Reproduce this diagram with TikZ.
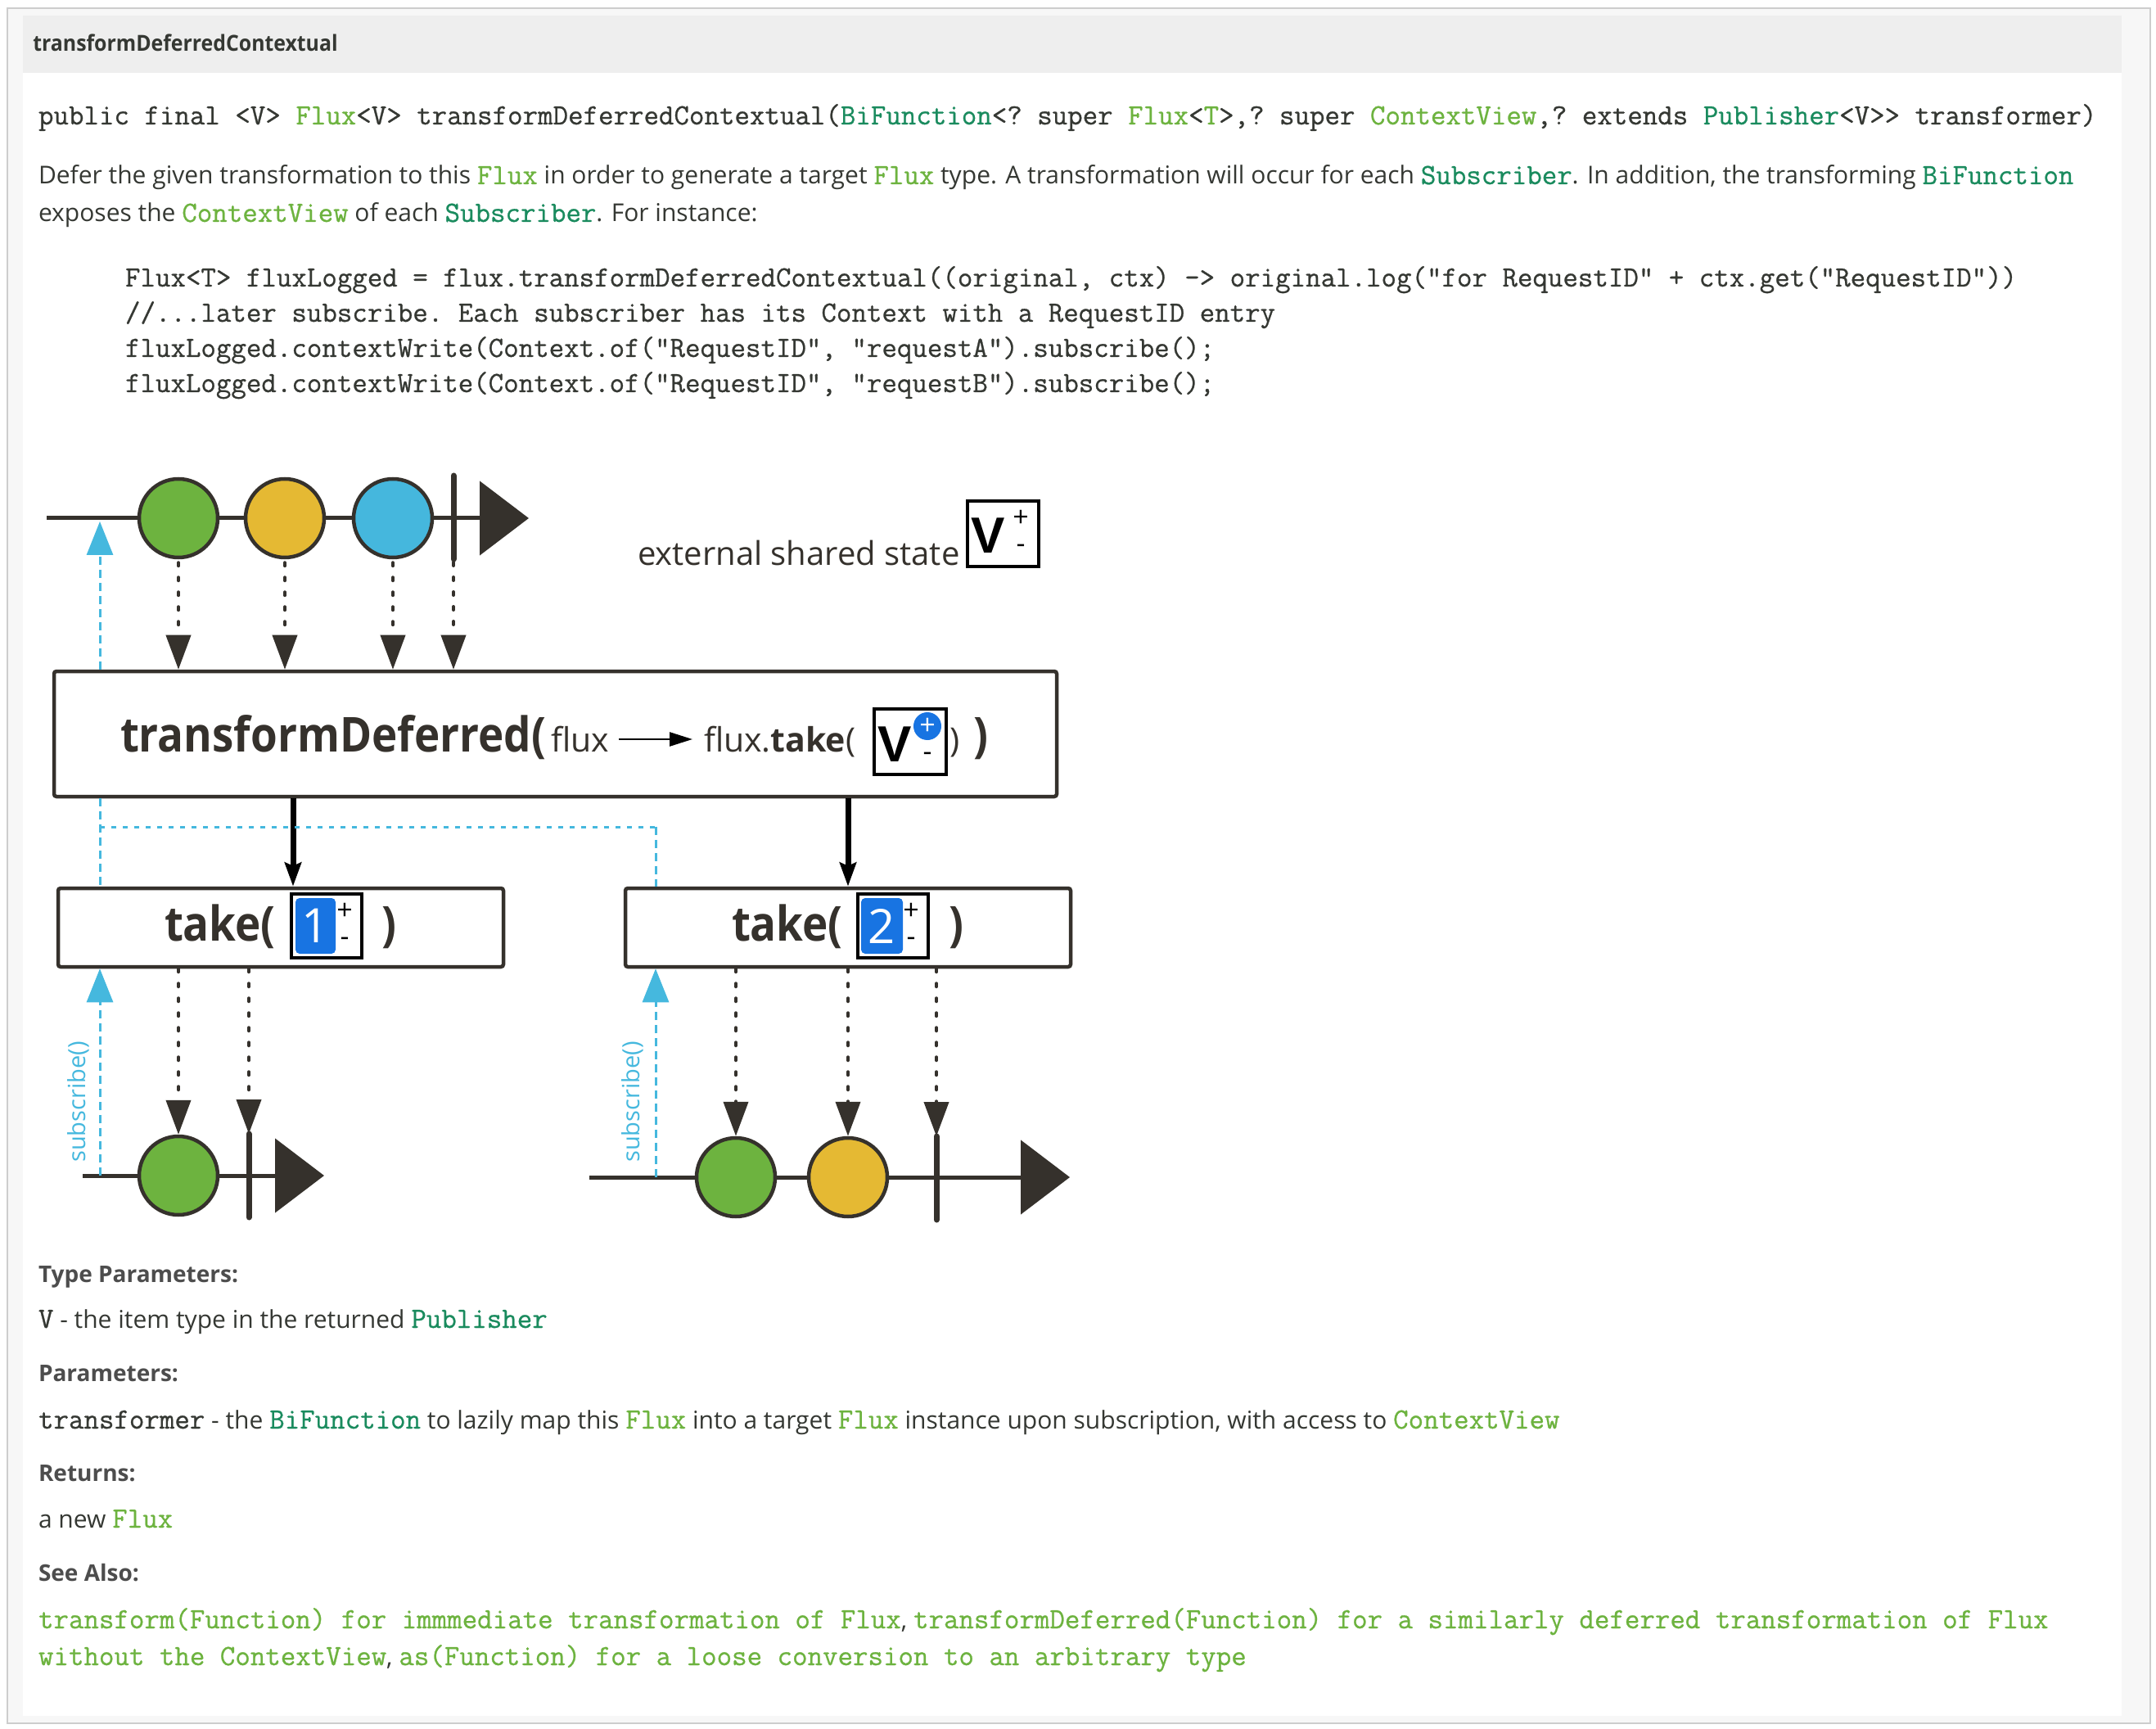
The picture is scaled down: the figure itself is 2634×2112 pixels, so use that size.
\documentclass[tikz,border=0pt]{standalone}
\usepackage{fontspec}
\setmainfont{Open Sans}
\setmonofont{Latin Modern Mono}[FakeBold=0.7]
\newfontfamily\hdrfont[FakeStretch=0.92]{Open Sans}
\newfontfamily\dfont[FakeStretch=0.9]{Open Sans}
\newfontfamily\vfont{Liberation Sans}
\usetikzlibrary{arrows.meta}

\definecolor{dk}{RGB}{53,49,44}
\definecolor{txt}{RGB}{53,56,51}
\definecolor{lbl}{RGB}{77,77,77}
\definecolor{lgreen}{RGB}{109,179,63}
\definecolor{dgreen}{RGB}{26,139,94}
\definecolor{mgreen}{RGB}{109,179,63}
\definecolor{myellow}{RGB}{229,185,51}
\definecolor{mblue}{RGB}{69,183,221}
\definecolor{sblue}{RGB}{69,184,222}
\definecolor{nblue}{RGB}{24,116,226}
\definecolor{hdr}{RGB}{238,238,238}
\definecolor{pagebg}{RGB}{247,247,247}
\definecolor{framec}{RGB}{205,205,205}

\newcommand\cpl[1]{{\ttfamily\fontsize{17.95pt}{20pt}\selectfont\color{txt}#1}}
\newcommand\cgl[1]{{\ttfamily\fontsize{17.95pt}{20pt}\selectfont\color{lgreen}#1}}
\newcommand\cgd[1]{{\ttfamily\fontsize{17.95pt}{20pt}\selectfont\color{dgreen}#1}}

\begin{document}
\begin{tikzpicture}[x=0.5pt,y=-0.5pt,
  txtline/.style={anchor=base west, inner sep=0pt, outer sep=0pt, text=txt, font=\fontsize{15pt}{18pt}\selectfont},
  lblline/.style={anchor=base west, inner sep=0pt, outer sep=0pt, text=lbl, font=\fontsize{14pt}{18pt}\selectfont\bfseries},
  codeline/.style={anchor=base west, inner sep=0pt, outer sep=0pt, text=txt, font=\ttfamily\fontsize{17.95pt}{20pt}\selectfont},
  dtext/.style={anchor=base west, inner sep=0pt, outer sep=0pt, text=dk},
  bigop/.style={dtext, font=\dfont\bfseries\fontsize{29.4pt}{32pt}\selectfont},
  marble/.style={circle, draw=dk, line width=2.25pt, minimum size=48pt, inner sep=0pt},
  opbox/.style={rectangle, draw=dk, line width=2.25pt, fill=white, rounded corners=1.5pt, inner sep=0pt},
  vbox/.style={rectangle, draw=black, line width=2pt, fill=white, inner sep=0pt},
  vletter/.style={inner sep=0pt, text=black, font=\vfont\bfseries\fontsize{31pt}{31pt}\selectfont},
  pm/.style={inner sep=0pt, text=black, font=\fontsize{17pt}{17pt}\selectfont},
  numbox/.style={rectangle, fill=nblue, rounded corners=2.5pt, inner sep=0pt, minimum height=34pt, text=white, font=\fontsize{29pt}{29pt}\selectfont},
  tline/.style={draw=dk, line width=2.5pt, -{Triangle[length=30pt,width=45pt]}},
  endbar/.style={draw=dk, line width=3.5pt, line cap=round},
  emit/.style={draw=dk, line width=2pt, line cap=round, dash pattern=on 2pt off 7pt, -{Triangle[length=21pt,width=15pt]}},
  subline/.style={draw=sblue, line width=1.5pt, dash pattern=on 5pt off 3pt},
  subdot/.style={draw=sblue, line width=1.5pt, dash pattern=on 3pt off 4pt},
  subtip/.style={-{Triangle[length=20.5pt,width=16pt]}},
  push/.style={draw=black, line width=3.5pt, -{Stealth[length=14.5pt,width=10pt,inset=2pt]}},
  lam/.style={draw=black, line width=1.3pt, -{Triangle[length=14pt,width=8.5pt]}}
]
% page
\fill[white] (0,0) rectangle (2634,2112);
\path[use as bounding box] (0,0) rectangle (2634,2112);
\draw[framec, fill=pagebg, line width=1.2pt] (9,10) rectangle (2627,2105);
\fill[hdr] (28,19) rectangle (2592,89);
\fill[white] (28,89) rectangle (2592,2096);

% header and text
\node[anchor=base west, inner sep=0pt, text=txt, font=\hdrfont\bfseries\fontsize{13.5pt}{16pt}\selectfont] (title) at (40,62.5) {transformDeferredContextual};
\node[codeline] (sig) at (47,152) {public final <V> \cgl{Flux}<V> transformDeferredContextual(\cgd{BiFunction}<? super \cgl{Flux}<\cgl{T}>,? super \cgl{ContextView},? extends \cgd{Publisher}<V>> transformer)};
\node[txtline] (d1) at (47,225) {Defer the given transformation to this \cgl{Flux} in order to generate a target \cgl{Flux} type. A transformation will occur for each \cgd{Subscriber}. In addition, the transforming \cgd{BiFunction}};
\node[txtline] (d2) at (47,271) {exposes the \cgl{ContextView} of each \cgd{Subscriber}. For instance:};
\node[codeline] (k1) at (153,350) {Flux<T> fluxLogged = flux.transformDeferredContextual((original, ctx) -> original.log("for RequestID" + ctx.get("RequestID"))};
\node[codeline] (k2) at (153,393) {//...later subscribe. Each subscriber has its Context with a RequestID entry};
\node[codeline] (k3) at (153,436) {fluxLogged.contextWrite(Context.of("RequestID", "requestA").subscribe();};
\node[codeline] (k4) at (153,479) {fluxLogged.contextWrite(Context.of("RequestID", "requestB").subscribe();};

\node[lblline] (h1) at (47,1566) {Type Parameters:};
\node[txtline] (e1) at (47,1622) {\cpl{V} - the item type in the returned \cgd{Publisher}};
\node[lblline] (h2) at (47,1687) {Parameters:};
\node[txtline] (e2) at (47,1745) {\cpl{transformer} - the \cgd{BiFunction} to lazily map this \cgl{Flux} into a target \cgl{Flux} instance upon subscription, with access to \cgl{ContextView}};
\node[lblline] (h3) at (47,1809) {Returns:};
\node[txtline] (e3) at (47,1866) {a new \cgl{Flux}};
\node[lblline] (h4) at (47,1931) {See Also:};
\node[txtline] (e4) at (47,1989) {\cgl{transform(Function) for immmediate transformation of Flux}, \cgl{transformDeferred(Function) for a similarly deferred transformation of Flux}};
\node[txtline] (e5) at (47,2034) {\cgl{without the ContextView}, \cgl{as(Function) for a loose conversion to an arbitrary type}};

% ---------- diagram ----------
% source timeline
\coordinate (t1s) at (57,633);
\coordinate (t1e) at (646,633);
\draw[tline] (t1s) -- (t1e);
\node[marble, fill=mgreen] (g1) at (218,633) {};
\node[marble, fill=myellow] (y1) at (348,633) {};
\node[marble, fill=mblue] (b1) at (480,633) {};
\coordinate (c1t) at (554,581);
\coordinate (c1b) at (554,683);
\draw[endbar] (c1t) -- (c1b);

% external state
\node[dtext, font=\fontsize{20pt}{24pt}\selectfont] (ext) at (779,691) {external shared state};
\node[vbox, minimum width=43.5pt, minimum height=40pt] (vext) at (1225.5,652) {};
\node[vletter] (vextV) at (1207.5,654) {V};
\node[pm] (vextp) at (1247,633) {+};
\node[pm] (vextm) at (1247,670) {-};

% main operator box
\node[opbox, minimum width=612.5pt, minimum height=76.5pt] (main) at (678.5,896.5) {};
\node[bigop] (tdname) at (147,918) {transformDeferred(};
\node[dtext, font=\fontsize{20.5pt}{24pt}\selectfont] (fluxin) at (673,918) {flux};
\node[dtext, font=\fontsize{20.5pt}{24pt}\selectfont] (fluxout) at (860,918) {flux.\textbf{take}(};
\coordinate (fa) at (756,903);
\coordinate (fb) at (846,903);
\draw[lam] (fa) -- (fb);
\node[vbox, minimum width=44pt, minimum height=40pt] (vmain) at (1112,906) {};
\node[vletter] (vmainV) at (1093,909) {V};
\node[circle, fill=nblue, minimum size=17pt, inner sep=0pt, text=white, font=\fontsize{17pt}{17pt}\selectfont] (vmainp) at (1133,887) {+};
\node[pm] (vmainm) at (1133,924) {-};
\node[dtext, font=\fontsize{20.5pt}{24pt}\selectfont] (rpa) at (1160,918) {)};
\node[bigop] (rpb) at (1189,918) {)};

% emissions into main box
\draw[emit, shorten <=2pt] (g1.south) -- (g1.south |- main.north);
\draw[emit, shorten <=2pt] (y1.south) -- (y1.south |- main.north);
\draw[emit, shorten <=2pt] (b1.south) -- (b1.south |- main.north);
\draw[emit, shorten <=2pt] (c1b) -- (c1b |- main.north);

% take boxes
\node[opbox, minimum width=272pt, minimum height=48pt] (take1) at (343,1133) {};
\node[opbox, minimum width=272pt, minimum height=48pt] (take2) at (1036,1133) {};
\node[bigop] (tk1) at (201,1149) {take(};
\node[vbox, minimum width=43pt, minimum height=39pt] (n1box) at (399,1131) {};
\node[numbox, minimum width=24.5pt] (n1) at (385.5,1131) {1};
\node[pm] (n1p) at (421,1113) {+};
\node[pm] (n1m) at (421,1150) {-};
\node[bigop] (rp1) at (466,1149) {)};
\node[bigop] (tk2) at (894,1149) {take(};
\node[vbox, minimum width=43pt, minimum height=39pt] (n2box) at (1091,1131) {};
\node[numbox, minimum width=25.5pt] (n2) at (1077.5,1131) {2};
\node[pm] (n2p) at (1113,1113) {+};
\node[pm] (n2m) at (1113,1150) {-};
\node[bigop] (rp2) at (1159,1149) {)};

% push arrows
\coordinate (pa) at (358,973);
\draw[push] (main.south -| pa) -- (take1.north -| pa);
\draw[push] (main.south -| take2.north) -- (take2.north);

% subscription path (blue)
\coordinate (sub0) at (122,637);
\draw[subline, subtip, sblue] (main.north -| sub0) -- (sub0);
\coordinate (jn1) at (122,1010);
\coordinate (jn2) at (801,1010);
\draw[subline] (main.south -| sub0) -- (take1.north -| sub0);
\draw[subdot] (jn1) -- (jn2);
\draw[subline] (jn2) -- (take2.north -| jn2);

% bottom left timeline
\coordinate (l2s) at (101,1436);
\coordinate (l2e) at (396,1436);
\draw[tline] (l2s) -- (l2e);
\node[marble, fill=mgreen] (g2) at (218,1436) {};
\coordinate (c2t) at (304,1385);
\coordinate (c2b) at (304,1487);
\draw[endbar] (c2t) -- (c2b);
\draw[emit] (take1.south -| g2) -- (g2.north);
\draw[emit] (take1.south -| c2t) -- (c2t);

% bottom right timeline
\coordinate (r2s) at (720,1438);
\coordinate (r2e) at (1307,1438);
\draw[tline] (r2s) -- (r2e);
\node[marble, fill=mgreen] (g3) at (899,1438) {};
\node[marble, fill=myellow] (y3) at (1036,1438) {};
\coordinate (c3t) at (1144,1388);
\coordinate (c3b) at (1144,1490);
\draw[endbar] (c3t) -- (c3b);
\draw[emit] (take2.south -| g3) -- (g3.north);
\draw[emit] (take2.south -| y3) -- (y3.north);
\draw[emit] (take2.south -| c3t) -- (c3t);

% subscribe arrows
\coordinate (sub1) at (122,1436);
\coordinate (sub2) at (801,1438);
\draw[subline, subtip, sblue] (sub1) -- (take1.south -| sub1);
\draw[subline, subtip, sblue] (sub2) -- (take2.south -| sub2);
\node[rotate=90, inner sep=0pt, text=sblue, font=\fontsize{14.5pt}{17pt}\selectfont] (lab1) at (96,1346) {subscribe()};
\node[rotate=90, inner sep=0pt, text=sblue, font=\fontsize{14.5pt}{17pt}\selectfont] (lab2) at (773,1346) {subscribe()};
\end{tikzpicture}
\end{document}
